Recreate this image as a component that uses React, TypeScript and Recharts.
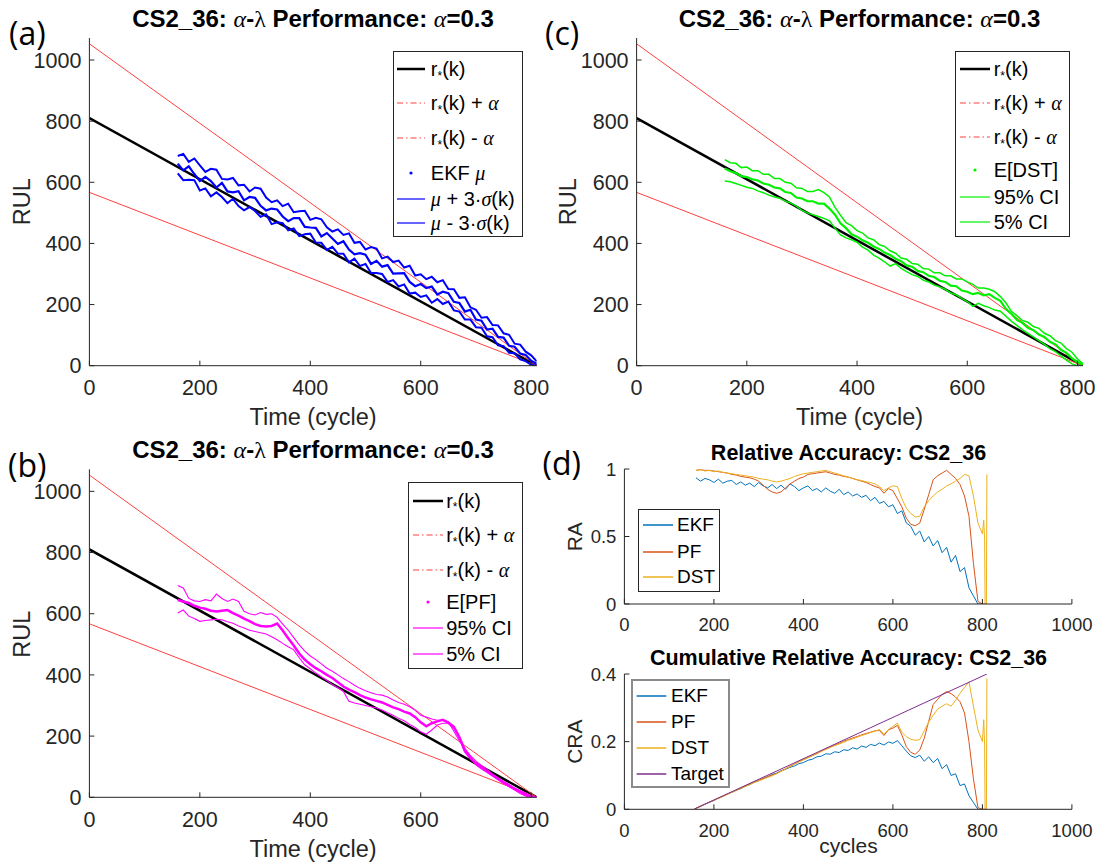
import React from "react";
import { LineChart, Line, XAxis, YAxis, Legend } from "recharts";

const SANS = '"Liberation Sans", Arial, Helvetica, sans-serif';
const SERIF = '"Liberation Serif", "Times New Roman", serif';
const AX = "#262626";
const RED = "#ff4040";
const BLUE = "#0000ff";
const GREEN = "#00f000";
const MAGENTA = "#ff00ff";
const C_EKF = "#0072bd";
const C_PF = "#d95319";
const C_DST = "#edb120";
const C_TGT = "#7e2f8e";

// ---- RUL panels (a)-(c) ----
const cycles = [
  160, 170, 180, 190, 200, 210, 220, 230, 240, 250, 260, 270, 280, 290, 300, 310, 320, 330, 340, 350,
  360, 370, 380, 390, 400, 410, 420, 430, 440, 450, 460, 470, 480, 490, 500, 510, 520, 530, 540, 550,
  560, 570, 580, 590, 600, 610, 620, 630, 640, 650, 660, 670, 680, 690, 700, 710, 720, 730, 740, 750,
  760, 770, 780, 790, 800, 810,
];

const refK = [0, 810];
const refTrue = [810, 0];
const refHigh = [1053, 0];
const refLow = [567, 0];

const ekfMean = [
  661, 639, 652, 627, 604, 618, 604, 583, 598, 570, 567, 571, 541, 552, 549, 523, 508, 514, 511, 488,
  473, 483, 483, 454, 452, 451, 423, 434, 416, 398, 407, 380, 364, 368, 363, 333, 343, 324, 329, 301,
  302, 303, 274, 260, 267, 254, 259, 233, 242, 237, 209, 205, 177, 183, 151, 147, 118, 121, 94, 92,
  65, 62, 40, 35, 16, 6,
];
const ekfHigh = [
  686, 693, 667, 678, 655, 634, 644, 641, 611, 609, 614, 590, 592, 570, 583, 579, 550, 535, 541, 522,
  530, 502, 505, 507, 477, 484, 479, 453, 439, 446, 428, 433, 402, 405, 380, 388, 383, 351, 357, 339,
  344, 321, 327, 295, 299, 283, 291, 273, 280, 251, 250, 222, 224, 191, 183, 157, 159, 133, 132, 106,
  101, 72, 69, 46, 34, 14,
];
const ekfLow = [
  629, 607, 608, 607, 573, 580, 554, 567, 552, 532, 546, 522, 508, 519, 506, 487, 495, 463, 469, 466,
  443, 449, 424, 430, 432, 403, 402, 379, 389, 367, 366, 338, 350, 326, 333, 303, 303, 300, 274, 280,
  259, 266, 236, 239, 225, 230, 206, 218, 202, 210, 181, 177, 151, 151, 126, 124, 96, 93, 67, 64,
  42, 41, 21, 15, 3, 0,
];

const pfMean = [
  645, 640, 635, 626, 620, 616, 610, 607, 610, 612, 602, 594, 584, 576, 566, 560, 558, 560, 568, 545,
  520, 496, 470, 450, 435, 422, 412, 400, 390, 376, 362, 352, 344, 334, 326, 320, 315, 310, 302, 294,
  288, 280, 274, 262, 245, 232, 242, 248, 253, 244, 230, 196, 150, 128, 110, 98, 84, 72, 60, 48,
  38, 28, 18, 8, 2, 0,
];
const pfHigh = [
  692, 684, 650, 642, 640, 646, 642, 664, 650, 640, 648, 640, 608, 600, 596, 604, 598, 600, 588, 566,
  546, 522, 498, 478, 462, 450, 436, 422, 412, 400, 388, 378, 366, 356, 348, 342, 336, 334, 328, 318,
  310, 304, 296, 284, 268, 262, 256, 252, 252, 246, 216, 184, 158, 136, 118, 104, 92, 76, 64, 52,
  42, 30, 22, 14, 4, 0,
];
const pfLow = [
  602, 612, 592, 584, 575, 578, 580, 582, 580, 574, 569, 560, 553, 546, 542, 538, 534, 525, 515, 503,
  492, 482, 456, 433, 420, 406, 394, 382, 368, 358, 346, 314, 308, 304, 300, 296, 292, 285, 276, 268,
  258, 250, 238, 228, 214, 206, 220, 236, 242, 242, 226, 198, 160, 132, 106, 92, 82, 70, 58, 46,
  34, 24, 12, 4, 0, 0,
];

const dstMean = [
  645, 636, 630, 620, 617, 610, 606, 596, 592, 583, 580, 568, 565, 550, 547, 538, 538, 530, 530, 514,
  494, 466, 450, 430, 422, 410, 402, 390, 382, 370, 362, 350, 342, 328, 324, 310, 306, 294, 290, 278,
  274, 262, 260, 246, 242, 234, 238, 230, 234, 222, 212, 186, 170, 150, 140, 124, 116, 102, 94, 78,
  70, 52, 42, 24, 12, 2,
];
const dstHigh = [
  674, 664, 662, 648, 650, 638, 638, 626, 626, 612, 612, 600, 597, 582, 580, 570, 570, 576, 566, 552,
  518, 492, 468, 458, 442, 434, 418, 412, 396, 390, 376, 368, 352, 348, 334, 332, 318, 316, 304, 304,
  294, 294, 284, 284, 274, 266, 254, 254, 250, 242, 226, 206, 178, 164, 148, 142, 128, 122, 106, 98,
  82, 74, 56, 44, 22, 6,
];
const dstLow = [
  604, 602, 596, 590, 584, 580, 572, 566, 558, 552, 548, 538, 532, 522, 508, 500, 494, 488, 482, 474,
  450, 428, 418, 412, 404, 388, 378, 362, 352, 340, 326, 334, 318, 308, 298, 292, 280, 274, 264, 258,
  250, 238, 232, 220, 210, 194, 204, 196, 190, 182, 178, 162, 146, 132, 118, 106, 94, 82, 70, 56,
  46, 32, 18, 6, 0, 0,
];

// ---- accuracy panels (d) ----
const accCycles = [
  160, 170, 180, 190, 200, 210, 220, 230, 240, 250, 260, 270, 280, 290, 300, 310, 320, 330, 340, 350,
  360, 370, 380, 390, 400, 410, 420, 430, 440, 450, 460, 470, 480, 490, 500, 510, 520, 530, 540, 550,
  560, 570, 580, 590, 600, 610, 620, 630, 640, 650, 660, 670, 680, 690, 700, 710, 720, 730, 740, 750,
  760, 770, 780, 790, 800,
];
const ekfRa = [
  0.935, 0.91, 0.93, 0.92, 0.9, 0.925, 0.895, 0.91, 0.915, 0.885,
  0.905, 0.88, 0.895, 0.87, 0.9, 0.875, 0.86, 0.885, 0.855, 0.88,
  0.85, 0.89, 0.87, 0.84, 0.86, 0.875, 0.84, 0.855, 0.83, 0.86,
  0.835, 0.82, 0.85, 0.81, 0.83, 0.8, 0.815, 0.79, 0.805, 0.765,
  0.79, 0.745, 0.76, 0.72, 0.735, 0.67, 0.69, 0.6, 0.575, 0.51,
  0.54, 0.46, 0.5, 0.43, 0.47, 0.38, 0.42, 0.31, 0.36, 0.24,
  0.27, 0.12, 0.06, 0, 0,
];
const pfRa = [
  0.99, 0.995, 0.99, 0.99, 0.985, 0.98, 0.975, 0.97, 0.96, 0.955,
  0.945, 0.94, 0.935, 0.925, 0.91, 0.88, 0.85, 0.83, 0.82, 0.83,
  0.86, 0.89, 0.91, 0.93, 0.94, 0.96, 0.965, 0.97, 0.975, 0.98,
  0.97, 0.96, 0.955, 0.945, 0.94, 0.93, 0.92, 0.91, 0.9, 0.885,
  0.87, 0.86, 0.82, 0.855, 0.84, 0.78, 0.72, 0.635, 0.59, 0.58,
  0.6, 0.7, 0.81, 0.92, 0.95, 0.97, 0.99, 0.96, 0.93, 0.885,
  0.8, 0.65, 0.3, 0.02, 0,
];
const dstRa = [
  0.99, 0.995, 0.985, 0.99, 0.98, 0.985, 0.975, 0.97, 0.965, 0.96,
  0.955, 0.95, 0.945, 0.94, 0.93, 0.925, 0.92, 0.91, 0.905, 0.91,
  0.92, 0.93, 0.945, 0.955, 0.965, 0.97, 0.975, 0.98, 0.985, 0.99,
  0.98, 0.97, 0.96, 0.95, 0.94, 0.93, 0.92, 0.915, 0.905, 0.9,
  0.89, 0.87, 0.84, 0.86, 0.875, 0.87, 0.78, 0.71, 0.67, 0.645,
  0.65, 0.72, 0.765, 0.8, 0.83, 0.85, 0.875, 0.89, 0.91, 0.93,
  0.96, 0.95, 0.8, 0.6, 0.52,
];
const ekfCra = [
  0.003, 0.009, 0.015, 0.021, 0.026, 0.033, 0.038, 0.045, 0.05, 0.056,
  0.061, 0.068, 0.073, 0.08, 0.084, 0.091, 0.096, 0.103, 0.107, 0.114,
  0.118, 0.124, 0.128, 0.135, 0.138, 0.145, 0.148, 0.155, 0.157, 0.164,
  0.163, 0.17, 0.168, 0.176, 0.174, 0.182, 0.178, 0.187, 0.183, 0.192,
  0.188, 0.196, 0.19, 0.199, 0.195, 0.203, 0.188, 0.172, 0.158, 0.153,
  0.16, 0.142, 0.155, 0.138, 0.15, 0.12, 0.132, 0.1, 0.105, 0.07,
  0.075, 0.04, 0.02, 0, 0,
];
const pfCra = [
  0.003, 0.009, 0.015, 0.021, 0.027, 0.033, 0.039, 0.045, 0.051, 0.057,
  0.063, 0.069, 0.075, 0.081, 0.086, 0.091, 0.097, 0.101, 0.106, 0.113,
  0.12, 0.127, 0.134, 0.141, 0.147, 0.153, 0.159, 0.165, 0.172, 0.178,
  0.184, 0.19, 0.195, 0.201, 0.206, 0.211, 0.215, 0.22, 0.224, 0.228,
  0.232, 0.233, 0.218, 0.235, 0.24, 0.248, 0.22, 0.185, 0.168, 0.163,
  0.175, 0.21, 0.26, 0.31, 0.325, 0.34, 0.348, 0.342, 0.332, 0.318,
  0.285, 0.2, 0.09, 0.005, 0,
];
const dstCra = [
  0.003, 0.009, 0.015, 0.021, 0.027, 0.032, 0.038, 0.044, 0.05, 0.056,
  0.062, 0.067, 0.073, 0.079, 0.084, 0.089, 0.094, 0.099, 0.105, 0.112,
  0.119, 0.126, 0.133, 0.14, 0.146, 0.152, 0.158, 0.164, 0.171, 0.177,
  0.183, 0.188, 0.193, 0.198, 0.204, 0.208, 0.213, 0.218, 0.222, 0.227,
  0.231, 0.236, 0.222, 0.236, 0.245, 0.255, 0.228, 0.215, 0.207, 0.204,
  0.206, 0.232, 0.258, 0.278, 0.296, 0.305, 0.312, 0.305, 0.322, 0.343,
  0.36, 0.377, 0.305, 0.235, 0.2,
];
const pfTailK = [810];
const pfRaTail = [0];
const pfCraTail = [0];
const dstTailK = [803, 805, 806, 809, 810];
const dstRaTail = [0.62, 0.47, 0, 0, 0.96];
const dstCraTail = [0.265, 0.19, 0, 0, 0.387];
const targetK = [155, 810];
const targetCra = [0, 0.4];

const rulTicksX = [0, 200, 400, 600, 800];
const rulTicksY = [0, 200, 400, 600, 800, 1000];
const cycleTicks = [0, 200, 400, 600, 800, 1000];
const raTicks = [0, 0.5, 1];
const craTicks = [0, 0.2, 0.4];

const pts = (xs: number[], ys: number[]) => xs.map((x, i) => ({ x, y: ys[i] }));

// inward MATLAB-style ticks
function TickB(p: any) {
  const { x, y, payload, fs = 21.5, len = 5 } = p;
  return (
    <g>
      <line x1={x} x2={x} y1={y} y2={y - len} stroke={AX} />
      <text x={x} y={y + 14} dy="0.72em" textAnchor="middle" fontFamily={SANS} fontSize={fs} fill={AX}>
        {payload.value}
      </text>
    </g>
  );
}
function TickL(p: any) {
  const { x, y, payload, fs = 21.5, len = 5 } = p;
  return (
    <g>
      <line x1={x} x2={x + len} y1={y} y2={y} stroke={AX} />
      <text x={x - 8} y={y} dy="0.36em" textAnchor="end" fontFamily={SANS} fontSize={fs} fill={AX}>
        {payload.value}
      </text>
    </g>
  );
}
function TickT(p: any) {
  const { x, y } = p;
  return <line x1={x} x2={x} y1={y} y2={y + 5} stroke={AX} />;
}
function TickR(p: any) {
  const { x, y } = p;
  return <line x1={x} x2={x - 5} y1={y} y2={y} stroke={AX} />;
}

const G = (c: string) => <span style={{ fontFamily: SERIF, fontStyle: "italic" }}>{c}</span>;
const rStar = (
  <>
    r<span style={{ fontSize: "0.6em", position: "relative", top: "0.3em" }}>*</span>(k)
  </>
);

type Row = { y: number; label: React.ReactNode; color: string; mark: "line" | "dashdot" | "dot"; sw?: number };

function LegendBox({ w, h, rows, lx0, lx1, tx, fs = 20, border = `1px solid ${AX}` }: any) {
  return (
    <div
      style={{
        position: "relative",
        width: w,
        height: h,
        boxSizing: "border-box",
        border,
        background: "#fff",
        fontFamily: SANS,
        fontSize: fs,
        color: "#000",
      }}
    >
      {rows.map((r: Row, i: number) => (
        <div key={i} style={{ position: "absolute", left: -1, top: r.y - 13, height: 24, width: "100%" }}>
          <svg width={lx1 + 2} height={24} style={{ position: "absolute", left: 0, top: 0 }}>
            {r.mark === "dot" ? (
              <circle cx={(lx0 + lx1) / 2} cy={12} r={1.6} fill={r.color} />
            ) : (
              <line
                x1={lx0}
                x2={lx1}
                y1={12}
                y2={12}
                stroke={r.color}
                strokeWidth={r.sw ?? 1.2}
                strokeDasharray={r.mark === "dashdot" ? "6 3 1.5 3" : undefined}
              />
            )}
          </svg>
          <div style={{ position: "absolute", left: tx, top: 0, height: 24, lineHeight: "24px", whiteSpace: "nowrap" }}>
            {r.label}
          </div>
        </div>
      ))}
    </div>
  );
}

function rulRows(ys: number[], color: string, names: React.ReactNode[]): Row[] {
  return [
    { y: ys[0], mark: "line", color: "#000", sw: 2.5, label: rStar },
    { y: ys[1], mark: "dashdot", color: RED, label: <>{rStar} + {G("α")}</> },
    { y: ys[2], mark: "dashdot", color: RED, label: <>{rStar} - {G("α")}</> },
    { y: ys[3], mark: "dot", color, label: names[0] },
    { y: ys[4], mark: "line", color, label: names[1] },
    { y: ys[5], mark: "line", color, label: names[2] },
  ];
}

function RulPanel({ left, top, w, h, m, color, mean, high, low, meanW, bandW, legend }: any) {
  return (
    <div style={{ position: "absolute", left, top }}>
      <LineChart width={w} height={h} margin={m}>
        <XAxis
          type="number"
          dataKey="x"
          domain={[0, 810]}
          ticks={rulTicksX}
          interval={0}
          tickSize={0}
          tickMargin={0}
          height={30}
          axisLine={{ stroke: AX }}
          tick={<TickB />}
          allowDataOverflow
        />
        <YAxis
          type="number"
          domain={[0, 1072]}
          ticks={rulTicksY}
          interval={0}
          tickSize={0}
          tickMargin={0}
          width={60}
          axisLine={{ stroke: AX }}
          tick={<TickL />}
          allowDataOverflow
        />
        <Line data={pts(refK, refTrue)} dataKey="y" stroke="#000" strokeWidth={2.5} dot={false} isAnimationActive={false} />
        <Line data={pts(refK, refHigh)} dataKey="y" stroke={RED} strokeWidth={1} dot={false} isAnimationActive={false} />
        <Line data={pts(refK, refLow)} dataKey="y" stroke={RED} strokeWidth={1} dot={false} isAnimationActive={false} />
        <Line data={pts(cycles, high)} dataKey="y" stroke={color} strokeWidth={bandW} dot={false} isAnimationActive={false} />
        <Line data={pts(cycles, low)} dataKey="y" stroke={color} strokeWidth={bandW} dot={false} isAnimationActive={false} />
        <Line data={pts(cycles, mean)} dataKey="y" stroke={color} strokeWidth={meanW} dot={false} isAnimationActive={false} />
        <Legend
          layout="horizontal"
          verticalAlign="middle"
          align="center"
          wrapperStyle={{ left: legend.left, top: legend.top, width: legend.w, height: legend.h }}
          content={() => <LegendBox {...legend} />}
        />
      </LineChart>
    </div>
  );
}

function AccPanel({ left, top, w, h, m, domainY, ticksY, children, legend }: any) {
  return (
    <div style={{ position: "absolute", left, top }}>
      <LineChart width={w} height={h} margin={m}>
        <XAxis
          xAxisId="b"
          type="number"
          dataKey="x"
          domain={[0, 1000]}
          ticks={cycleTicks}
          interval={0}
          tickSize={0}
          tickMargin={0}
          height={30}
          axisLine={{ stroke: AX }}
          tick={<TickB fs={18.5} />}
          allowDataOverflow
        />
        <XAxis
          xAxisId="t"
          orientation="top"
          type="number"
          dataKey="x"
          domain={[0, 1000]}
          ticks={cycleTicks}
          interval={0}
          tickSize={0}
          tickMargin={0}
          height={0}
          axisLine={{ stroke: AX }}
          tick={<TickT />}
        />
        <YAxis
          yAxisId="l"
          type="number"
          domain={domainY}
          ticks={ticksY}
          interval={0}
          tickSize={0}
          tickMargin={0}
          width={60}
          axisLine={{ stroke: AX }}
          tick={<TickL fs={18.5} />}
          allowDataOverflow
        />
        <YAxis
          yAxisId="r"
          orientation="right"
          type="number"
          domain={domainY}
          ticks={ticksY}
          interval={0}
          tickSize={0}
          tickMargin={0}
          width={0}
          axisLine={{ stroke: AX }}
          tick={<TickR />}
        />
        {children}
        <Legend
          layout="horizontal"
          verticalAlign="middle"
          align="center"
          wrapperStyle={{ left: legend.left, top: legend.top, width: legend.w, height: legend.h }}
          content={() => <LegendBox {...legend} />}
        />
      </LineChart>
    </div>
  );
}

const accLine = (data: any[], color: string, key: string) => (
  <Line
    key={key}
    xAxisId="b"
    yAxisId="l"
    data={data}
    dataKey="y"
    stroke={color}
    strokeWidth={1}
    dot={false}
    isAnimationActive={false}
  />
);

function PerfTitle({ x, y }: { x: number; y: number }) {
  return (
    <text x={x} y={y} textAnchor="middle" fontFamily={SANS} fontWeight="bold" fontSize={24} fill="#000">
      {"CS2_36: "}
      <tspan fontFamily={SERIF} fontStyle="italic" fontWeight="normal">α</tspan>
      {"-"}
      <tspan fontFamily={SERIF} fontWeight="normal">λ</tspan>
      {" Performance: "}
      <tspan fontFamily={SERIF} fontStyle="italic" fontWeight="normal">α</tspan>
      {"=0.3"}
    </text>
  );
}

export default function App() {
  return (
    <div style={{ position: "absolute", left: 0, top: 0, width: 1099, height: 867, background: "#fff" }}>
      <RulPanel
        left={0}
        top={0}
        w={550}
        h={430}
        m={{ top: 38, right: 13.3, bottom: 34.3, left: 29.4 }}
        color={BLUE}
        mean={ekfMean}
        high={ekfHigh}
        low={ekfLow}
        meanW={2.2}
        bandW={2}
        legend={{
          left: 392.8,
          top: 50.7,
          w: 130,
          h: 186,
          lx0: 4,
          lx1: 32,
          tx: 38,
          rows: rulRows([18.6, 52.6, 87.6, 122.6, 148.6, 172], BLUE, [
            <>EKF {G("μ")}</>,
            <>{G("μ")} + 3·{G("σ")}(k)</>,
            <>{G("μ")} - 3·{G("σ")}(k)</>,
          ]),
        }}
      />
      <RulPanel
        left={550}
        top={0}
        w={549}
        h={430}
        m={{ top: 38, right: 16, bottom: 34.3, left: 26.6 }}
        color={GREEN}
        mean={dstMean}
        high={dstHigh}
        low={dstLow}
        meanW={2.2}
        bandW={1.5}
        legend={{
          left: 405.1,
          top: 50.7,
          w: 115,
          h: 186,
          lx0: 5,
          lx1: 35,
          tx: 38.6,
          rows: rulRows([18.3, 52.6, 86.6, 119.3, 146, 171], GREEN, [<>E[DST]</>, <>95% CI</>, <>5% CI</>]),
        }}
      />
      <RulPanel
        left={0}
        top={430}
        w={550}
        h={437}
        m={{ top: 39.3, right: 13.3, bottom: 39.7, left: 29.4 }}
        color={MAGENTA}
        mean={pfMean}
        high={pfHigh}
        low={pfLow}
        meanW={2.5}
        bandW={1.1}
        legend={{
          left: 407.9,
          top: 52,
          w: 115,
          h: 187,
          lx0: 5,
          lx1: 35,
          tx: 38.3,
          rows: rulRows([18.7, 53, 88, 119.7, 146.3, 172], MAGENTA, [<>E[PF]</>, <>95% CI</>, <>5% CI</>]),
        }}
      />
      <AccPanel
        left={550}
        top={430}
        w={549}
        h={210}
        m={{ top: 39, right: 27.1, bottom: 6, left: 14.4 }}
        domainY={[0, 1]}
        ticksY={raTicks}
        legend={{
          left: 87.7,
          top: 79,
          w: 82.4,
          h: 82.7,
          lx0: 5,
          lx1: 35,
          tx: 39.3,
          fs: 19,
          rows: [
            { y: 16, mark: "line", color: C_EKF, sw: 1.5, label: "EKF" },
            { y: 42.7, mark: "line", color: C_PF, sw: 1.5, label: "PF" },
            { y: 67.7, mark: "line", color: C_DST, sw: 1.5, label: "DST" },
          ],
        }}
      >
        {accLine(pts(accCycles, ekfRa), C_EKF, "ekf")}
        {accLine([...pts(accCycles, pfRa), ...pts(pfTailK, pfRaTail)], C_PF, "pf")}
        {accLine([...pts(accCycles, dstRa), ...pts(dstTailK, dstRaTail)], C_DST, "dst")}
      </AccPanel>
      <AccPanel
        left={550}
        top={640}
        w={549}
        h={227}
        m={{ top: 34, right: 27.1, bottom: 27.7, left: 14.4 }}
        domainY={[0, 0.4]}
        ticksY={craTicks}
        legend={{
          left: 81.4,
          top: 39,
          w: 98.2,
          h: 109,
          lx0: 4.6,
          lx1: 34.3,
          tx: 38.6,
          fs: 19,
          border: "2px solid #8a8a8a",
          rows: [
            { y: 16, mark: "line", color: C_EKF, sw: 1.5, label: "EKF" },
            { y: 42, mark: "line", color: C_PF, sw: 1.5, label: "PF" },
            { y: 67.7, mark: "line", color: C_DST, sw: 1.5, label: "DST" },
            { y: 94.3, mark: "line", color: C_TGT, sw: 1.5, label: "Target" },
          ],
        }}
      >
        {accLine(pts(accCycles, ekfCra), C_EKF, "ekf")}
        {accLine([...pts(accCycles, pfCra), ...pts(pfTailK, pfCraTail)], C_PF, "pf")}
        {accLine([...pts(accCycles, dstCra), ...pts(dstTailK, dstCraTail)], C_DST, "dst")}
        {accLine(pts(targetK, targetCra), C_TGT, "tgt")}
      </AccPanel>

      <svg
        width={1099}
        height={867}
        style={{ position: "absolute", left: 0, top: 0, pointerEvents: "none" }}
      >
        <PerfTitle x={313} y={26.7} />
        <PerfTitle x={859.5} y={26.7} />
        <PerfTitle x={313} y={458.3} />
        <text x={848.5} y={460} textAnchor="middle" fontFamily={SANS} fontWeight="bold" fontSize={21.5} fill="#000">
          Relative Accuracy: CS2_36
        </text>
        <text x={848.5} y={665} textAnchor="middle" fontFamily={SANS} fontWeight="bold" fontSize={21.5} fill="#000">
          Cumulative Relative Accuracy: CS2_36
        </text>

        <g fontFamily='"Open Sans", sans-serif' fontSize={32} fill="#000">
          <text x={9} y={45}>(a)</text>
          <text x={545} y={45}>(c)</text>
          <text x={8} y={476.5}>(b)</text>
          <text x={542.5} y={475}>(d)</text>
        </g>

        <g fontFamily={SANS} fontSize={23.5} fill={AX} textAnchor="middle">
          <text transform="translate(29.8 201.7) rotate(-90)">RUL</text>
          <text transform="translate(576.3 201.7) rotate(-90)">RUL</text>
          <text transform="translate(29.8 634.2) rotate(-90)">RUL</text>
          <text x={313} y={425}>Time (cycle)</text>
          <text x={859.5} y={425}>Time (cycle)</text>
          <text x={313} y={856.7}>Time (cycle)</text>
        </g>
        <g fontFamily={SANS} fontSize={21} fill={AX} textAnchor="middle">
          <text transform="translate(581.6 536.7) rotate(-90)">RA</text>
          <text transform="translate(581.6 741.7) rotate(-90)">CRA</text>
          <text x={848.5} y={852.7}>cycles</text>
        </g>
      </svg>
    </div>
  );
}
